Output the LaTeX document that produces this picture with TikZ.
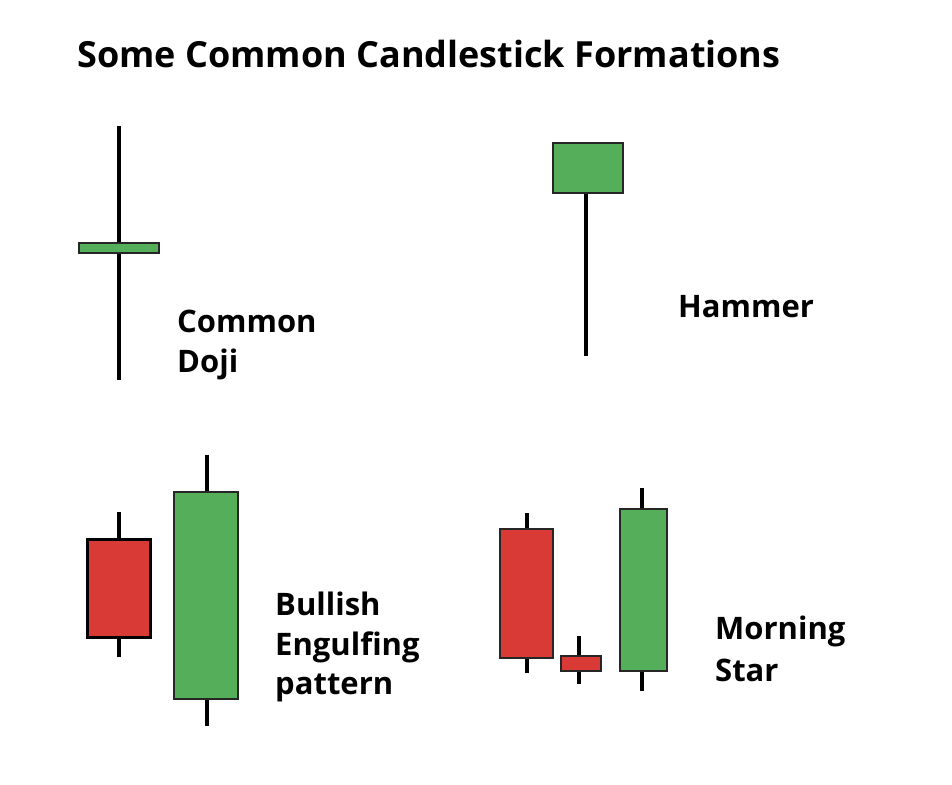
\documentclass[tikz,border=0pt]{standalone}
\usepackage{fontspec}
\setmainfont[Ligatures=NoCommon]{Open Sans}
\usetikzlibrary{positioning}
\definecolor{candlered}{HTML}{D93A35}
\definecolor{candlegreen}{HTML}{55AF5A}
\tikzset{
  wick/.style={line width=4pt},
  body/.style={draw=black!85, line width=2pt},
  title text/.style={font=\bfseries\fontsize{36}{40}\selectfont, inner sep=0pt, anchor=base west},
  label text/.style={font=\bfseries\fontsize{31}{38}\selectfont, inner sep=0pt, anchor=base west},
}
\begin{document}
\begin{tikzpicture}[x=1pt,y=-1pt]
    \useasboundingbox (0,0) rectangle (952,784);
    \node[title text] (title) at (77,67) {Some Common Candlestick Formations};
    % doji
    \draw[wick] (119,126) -- (119,380);
    \draw[body, fill=candlegreen] (79,243) rectangle (159,253);
    \node[label text] (doji1) at (177,332) {Common};
    \node[label text] (doji2) at ([yshift=-40pt]doji1.base west) {Doji};
    % hammer
    \draw[wick] (586,193) -- (586,356);
    \draw[body, fill=candlegreen] (553,143) rectangle (623,193);
    \node[label text] (hammer) at (678,317) {Hammer};
    % bullish engulfing
    \draw[wick] (119,512) -- (119,657);
    \draw[body, fill=candlered, draw=black, line width=3pt] (87,539) rectangle (150,637);
    \draw[wick] (207,455) -- (207,726);
    \draw[body, fill=candlegreen] (174,492) rectangle (238,699);
    \node[label text] (engulf1) at (275,615) {Bullish};
    \node[label text] (engulf2) at ([yshift=-40pt]engulf1.base west) {Engulfing};
    \node[label text] (engulf3) at ([yshift=-39pt]engulf2.base west) {pattern};
    % morning star
    \draw[wick] (527,513) -- (527,673);
    \draw[body, fill=candlered] (500,529) rectangle (553,658);
    \draw[wick] (579,636) -- (579,684);
    \draw[body, fill=candlered] (561,656) rectangle (601,671);
    \draw[wick] (642,488) -- (642,691);
    \draw[body, fill=candlegreen] (620,509) rectangle (667,671);
    \node[label text] (star1) at (715,639) {Morning};
    \node[label text] (star2) at ([yshift=-42pt]star1.base west) {Star};
\end{tikzpicture}
\end{document}
